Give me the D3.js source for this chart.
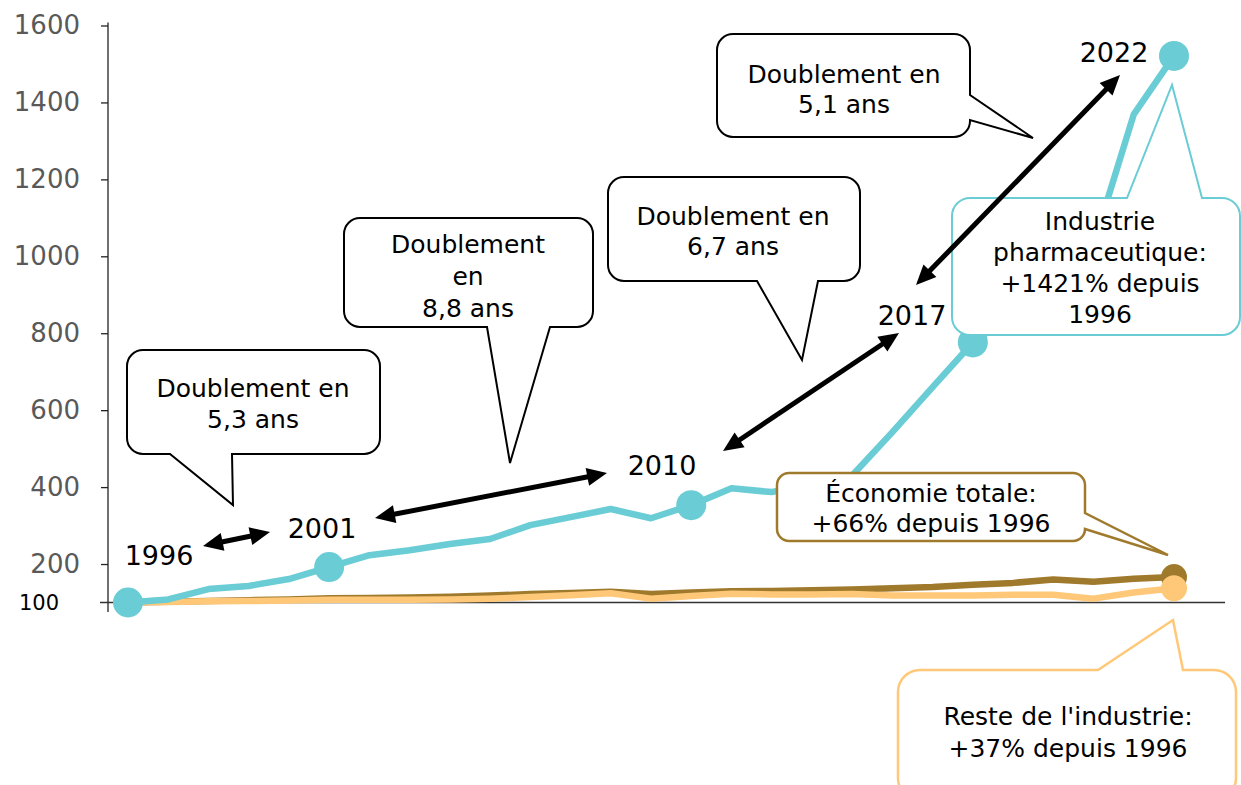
<!DOCTYPE html>
<html>
<head>
<meta charset="utf-8">
<script src="https://cdn.jsdelivr.net/npm/d3@7"></script>
<style>
  body { margin: 0; background: #fff; }
  text { font-family: "DejaVu Sans", Verdana, sans-serif; }
</style>
</head>
<body>
<div id="chart"></div>
<script>
// index values, 1996 = 100
const years = d3.range(1996, 2023);
const pharma = [100, 108, 135, 143, 161, 192, 223, 236, 252, 265, 301, 322, 343, 319, 353, 397, 387, 410, 430, 543, 660, 776, 850, 930, 1030, 1369, 1521];
const economie = [100, 102, 104, 106, 108, 111, 112, 113, 115, 118, 122, 125, 128, 122, 126, 129, 130, 132, 134, 137, 140, 146, 151, 160, 154, 162, 166];
const reste = [100, 101, 103, 104, 105, 107, 107, 107, 108, 110, 114, 119, 124, 110, 117, 123, 121, 121, 122, 118, 118, 118, 120, 120, 110, 126, 137];
const yTicks = [200, 400, 600, 800, 1000, 1200, 1400, 1600];
const pharmaDots = [1996, 2001, 2010, 2017, 2022];

const width = 1241, height = 785;
const svg = d3.select("#chart").append("svg")
  .attr("width", width)
  .attr("height", height);

const x = d3.scaleLinear().domain([1996, 2022]).range([128, 1174]);
const y = d3.scaleLinear().domain([100, 1600]).range([602.5, 25.5]);

const cPharma = "#6accd4", cEco = "#a07a2c", cReste = "#ffc878";

// axes
const yAxis = svg.append("g")
  .attr("transform", "translate(108,0)")
  .call(d3.axisLeft(y).tickValues(yTicks).tickFormat(d3.format("d")).tickSize(7).tickPadding(21));
yAxis.select(".domain").remove();
yAxis.selectAll(".tick line").attr("stroke", "#222").attr("stroke-width", 1.3);
yAxis.selectAll(".tick text")
  .attr("fill", "#595959")
  .style("font-size", "26px")
  .style("font-family", "DejaVu Sans, Verdana, sans-serif");

svg.append("line")
  .attr("x1", 108).attr("x2", 108)
  .attr("y1", y(1600) - 3).attr("y2", 612)
  .attr("stroke", "#222").attr("stroke-width", 1.3);
svg.append("line")
  .attr("x1", 100).attr("x2", 1225)
  .attr("y1", y(100)).attr("y2", y(100))
  .attr("stroke", "#333").attr("stroke-width", 1.5);
svg.append("text")
  .attr("x", 39).attr("y", y(100) + 7)
  .attr("text-anchor", "middle")
  .style("font-size", "21px")
  .attr("fill", "#000")
  .text("100");

// series lines
const line = d3.line().x((d, i) => x(years[i])).y(d => y(d));
[[economie, cEco], [reste, cReste], [pharma, cPharma]].forEach(([vals, col]) => {
  svg.append("path")
    .datum(vals)
    .attr("fill", "none")
    .attr("stroke", col)
    .attr("stroke-width", 6.5)
    .attr("stroke-linejoin", "round")
    .attr("d", line);
});

svg.append("circle").attr("cx", x(2022)).attr("cy", y(economie[26])).attr("r", 13).attr("fill", cEco);
svg.append("circle").attr("cx", x(2022)).attr("cy", y(reste[26])).attr("r", 13).attr("fill", cReste);
svg.selectAll(".pdot")
  .data(pharmaDots)
  .enter().append("circle")
  .attr("class", "pdot")
  .attr("cx", d => x(d))
  .attr("cy", d => y(pharma[d - 1996]))
  .attr("r", 15)
  .attr("fill", cPharma);

// callout boxes with tails
function calloutPath(b) {
  const { x0, y0, x1, y1, r, tail } = b;
  let p = `M${x0 + r},${y0}`;
  if (tail.side === "top") p += `L${tail.a},${y0}L${tail.tip[0]},${tail.tip[1]}L${tail.b},${y0}`;
  p += `L${x1 - r},${y0}A${r},${r} 0 0 1 ${x1},${y0 + r}`;
  if (tail.side === "right") p += `L${x1},${tail.a}L${tail.tip[0]},${tail.tip[1]}L${x1},${tail.b}`;
  p += `L${x1},${y1 - r}A${r},${r} 0 0 1 ${x1 - r},${y1}`;
  if (tail.side === "bottom") p += `L${tail.b},${y1}L${tail.tip[0]},${tail.tip[1]}L${tail.a},${y1}`;
  p += `L${x0 + r},${y1}A${r},${r} 0 0 1 ${x0},${y1 - r}L${x0},${y0 + r}A${r},${r} 0 0 1 ${x0 + r},${y0}Z`;
  return p;
}

const callouts = [
  { x0: 127, y0: 350, x1: 380, y1: 454, r: 16, stroke: "#000", sw: 2,
    tail: { side: "bottom", a: 170, b: 232, tip: [233, 505] },
    cx: 253, lines: ["Doublement en", "5,3 ans"], base: 397, lh: 31 },
  { x0: 344, y0: 218, x1: 593, y1: 327, r: 16, stroke: "#000", sw: 2,
    tail: { side: "bottom", a: 487, b: 550, tip: [510, 463] },
    cx: 468, lines: ["Doublement", "en", "8,8 ans"], base: 253, lh: 32 },
  { x0: 608, y0: 177, x1: 860, y1: 281, r: 16, stroke: "#000", sw: 2,
    tail: { side: "bottom", a: 757, b: 818, tip: [802, 360] },
    cx: 733, lines: ["Doublement en", "6,7 ans"], base: 225, lh: 30 },
  { x0: 717, y0: 34, x1: 970, y1: 137, r: 16, stroke: "#000", sw: 2,
    tail: { side: "right", a: 95, b: 120, tip: [1033, 138] },
    cx: 844, lines: ["Doublement en", "5,1 ans"], base: 83, lh: 30 },
  { x0: 952, y0: 198, x1: 1240, y1: 335, r: 18, stroke: cPharma, sw: 2,
    tail: { side: "top", a: 1127, b: 1202, tip: [1172, 85] },
    cx: 1100, lines: ["Industrie", "pharmaceutique:", "+1421% depuis", "1996"], base: 230, lh: 31 },
  { x0: 777, y0: 473, x1: 1085, y1: 541, r: 12, stroke: cEco, sw: 2.5,
    tail: { side: "right", a: 513, b: 529, tip: [1168, 555] },
    cx: 931, lines: ["Économie totale:", "+66% depuis 1996"], base: 502, lh: 30 },
  { x0: 898, y0: 670, x1: 1236, y1: 800, r: 22, stroke: cReste, sw: 2.5,
    tail: { side: "top", a: 1098, b: 1183, tip: [1173, 620] },
    cx: 1068, lines: ["Reste de l'industrie:", "+37% depuis 1996"], base: 725, lh: 32 }
];

callouts.forEach(c => {
  const g = svg.append("g");
  g.append("path")
    .attr("d", calloutPath(c))
    .attr("fill", "#fff")
    .attr("stroke", c.stroke)
    .attr("stroke-width", c.sw)
    .attr("stroke-linejoin", "miter");
  c.lines.forEach((t, i) => {
    g.append("text")
      .attr("x", c.cx)
      .attr("y", c.base + i * c.lh)
      .attr("text-anchor", "middle")
      .style("font-size", "25px")
      .attr("fill", "#000")
      .text(t);
  });
});

// double-headed arrows
const arrows = [
  [[203, 546], [270, 532]],
  [[375, 518], [607, 473]],
  [[723, 451], [899, 333]],
  [[916, 285], [1120, 75]]
];
arrows.forEach(([p0, p1]) => {
  const dx = p1[0] - p0[0], dy = p1[1] - p0[1];
  const len = Math.hypot(dx, dy);
  const ux = dx / len, uy = dy / len;
  const hl = 20, hw = 9;
  svg.append("line")
    .attr("x1", p0[0] + ux * (hl - 2)).attr("y1", p0[1] + uy * (hl - 2))
    .attr("x2", p1[0] - ux * (hl - 2)).attr("y2", p1[1] - uy * (hl - 2))
    .attr("stroke", "#000").attr("stroke-width", 5);
  [[p1, 1], [p0, -1]].forEach(([tip, s]) => {
    const bx = tip[0] - s * ux * hl, by = tip[1] - s * uy * hl;
    svg.append("path")
      .attr("d", `M${tip[0]},${tip[1]}L${bx - uy * hw},${by + ux * hw}L${bx + uy * hw},${by - ux * hw}Z`)
      .attr("fill", "#000");
  });
});

// year labels
const yearLabels = [
  { t: "1996", x: 159, y: 565 },
  { t: "2001", x: 322, y: 538 },
  { t: "2010", x: 662, y: 475 },
  { t: "2017", x: 912, y: 325 },
  { t: "2022", x: 1114, y: 62 }
];
svg.selectAll(".yl")
  .data(yearLabels)
  .enter().append("text")
  .attr("class", "yl")
  .attr("x", d => d.x)
  .attr("y", d => d.y)
  .attr("text-anchor", "middle")
  .style("font-size", "27px")
  .attr("fill", "#000")
  .text(d => d.t);
</script>
</body>
</html>
